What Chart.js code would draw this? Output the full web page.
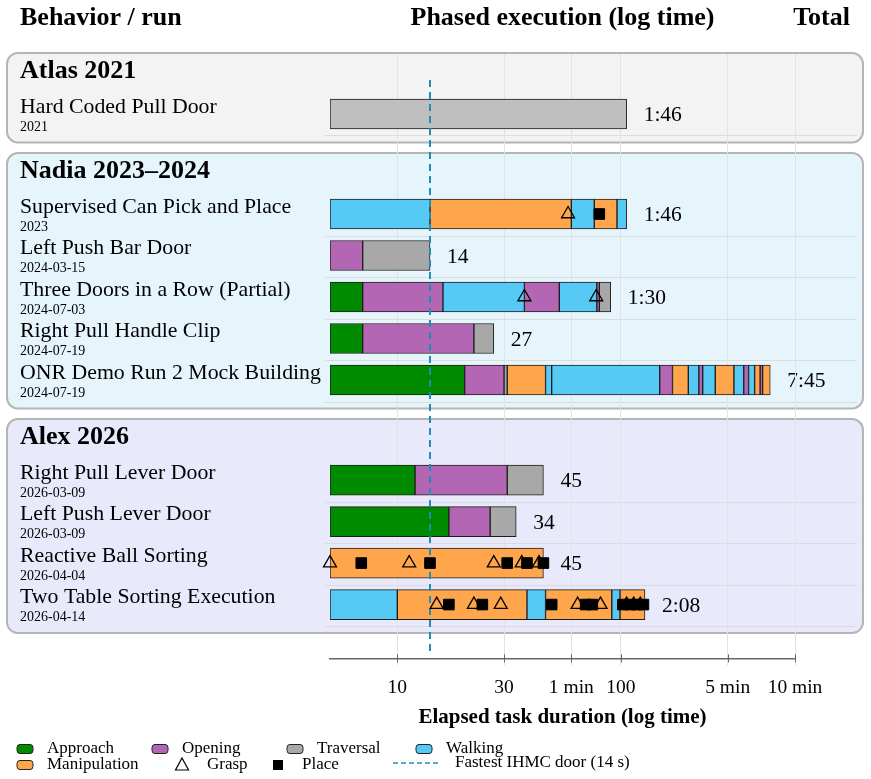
<!DOCTYPE html>
<html>
<head>
<meta charset="utf-8">
<title>Phased execution</title>
<script src="https://cdn.jsdelivr.net/npm/chart.js@4.4.0/dist/chart.umd.min.js"></script>
<style>
  html, body { margin: 0; padding: 0; background: #fff; }
  #wrap { width: 871px; height: 779px; }
</style>
</head>
<body>
<div id="wrap"><canvas id="phaseChart" width="871" height="779"></canvas></div>
<script>
const groupNames = ['Atlas 2021', 'Nadia 2023–2024', 'Alex 2026'];
const runNames = [
    'Hard Coded Pull Door',
    'Supervised Can Pick and Place',
    'Left Push Bar Door',
    'Three Doors in a Row (Partial)',
    'Right Pull Handle Clip',
    'ONR Demo Run 2 Mock Building',
    'Right Pull Lever Door',
    'Left Push Lever Door',
    'Reactive Ball Sorting',
    'Two Table Sorting Execution'
];
const runDates = ['2021', '2023', '2024-03-15', '2024-07-03', '2024-07-19', '2024-07-19',
    '2026-03-09', '2026-03-09', '2026-04-04', '2026-04-14'];
const runGroups = [0, 1, 1, 1, 1, 1, 2, 2, 2, 2];

// phases of each run, in order, with their durations in seconds
const runPhases = [
    ['Scripted'],
    ['Walking', 'Manipulation', 'Walking', 'Manipulation', 'Walking'],
    ['Opening', 'Traversal'],
    ['Approach', 'Opening', 'Walking', 'Opening', 'Walking', 'Opening', 'Traversal'],
    ['Approach', 'Opening', 'Traversal'],
    ['Approach', 'Opening', 'Traversal', 'Manipulation', 'Walking', 'Walking', 'Opening', 'Manipulation',
        'Walking', 'Opening', 'Walking', 'Manipulation', 'Walking', 'Opening', 'Walking', 'Manipulation',
        'Opening', 'Manipulation'],
    ['Approach', 'Opening', 'Traversal'],
    ['Approach', 'Opening', 'Traversal'],
    ['Manipulation'],
    ['Walking', 'Manipulation', 'Walking', 'Manipulation', 'Walking', 'Manipulation']
];
const runDurations = [
    [106],
    [14, 46, 16, 20, 10],
    [7, 7],
    [7, 9, 21, 16, 25, 2, 10],
    [7, 15, 5],
    [20, 10, 1, 15, 3, 100, 21, 30, 23, 9, 32, 56, 34, 18, 24, 23, 11, 35],
    [12, 19, 14],
    [17, 9, 8],
    [45],
    [10, 28, 8, 45, 8, 29]
];
const graspTimes = [[], [58], [], [37, 77.5], [], [], [], [], [5, 11.3, 27, 36, 43],
    [15, 22, 29, 64, 81, 106, 114, 122]];
const placeTimes = [[], [80], [], [], [], [], [], [], [6.9, 14, 31, 38, 45],
    [17, 24, 49, 69.5, 74.5, 102, 110, 118, 126]];

const tickValues = [10, 30, 60, 100, 300, 600];
const tickLabels = ['10', '30', '1 min', '100', '5 min', '10 min'];
const fastestIhmcDoor = 14;

const X_MIN = 5;
const X_MAX = 600;
const SERIF = '"Liberation Serif", "DejaVu Serif", serif';

const phaseOrder = ['Approach', 'Opening', 'Traversal', 'Walking', 'Manipulation', 'Scripted'];
const phaseColors = {
    Approach: '#008a00',
    Opening: '#b366b3',
    Traversal: '#a8a8a8',
    Walking: '#57c9f5',
    Manipulation: '#ffa64d',
    Scripted: '#bfbfbf'
};
const boxColors = ['#f3f3f3', '#e6f5fc', '#e9e9fc'];

// row layout in units of one row pitch
const titlePos = [];
const rowPos = [];
let cursor = -1.06;
runGroups.forEach((g, i) => {
    if (i === 0 || g !== runGroups[i - 1]) {
        if (i > 0) cursor += 1.35;
        titlePos[g] = cursor;
        cursor += 1.06;
    } else {
        cursor += 1;
    }
    rowPos[i] = cursor;
});
const Y_MIN = titlePos[0] - 0.385;
const Y_MAX = rowPos[rowPos.length - 1] + 1.297;

const barSets = phaseOrder.map(p => ({
    type: 'bar',
    label: p,
    indexAxis: 'y',
    grouped: false,
    barThickness: 30,
    backgroundColor: phaseColors[p],
    borderColor: '#1e1e1e',
    borderWidth: 1,
    borderSkipped: false,
    order: 2,
    data: []
}));

const totals = [];
runPhases.forEach((phases, r) => {
    let t = 0;
    phases.forEach((p, k) => {
        const end = t + runDurations[r][k];
        barSets[phaseOrder.indexOf(p)].data.push({ y: rowPos[r], x: [Math.max(t, X_MIN), end] });
        t = end;
    });
    totals[r] = t;
});

function fmtTotal(t) {
    if (t < 60) return String(t);
    return Math.floor(t / 60) + ':' + String(t % 60).padStart(2, '0');
}

const graspSet = {
    type: 'scatter',
    label: 'Grasp',
    data: graspTimes.flatMap((ts, r) => ts.map(t => ({ x: t, y: rowPos[r] }))),
    pointStyle: 'triangle',
    pointRadius: 7.5,
    backgroundColor: 'rgba(0,0,0,0)',
    borderColor: '#000',
    borderWidth: 1.3,
    clip: false,
    order: 0
};
const placeSet = {
    type: 'scatter',
    label: 'Place',
    data: placeTimes.flatMap((ts, r) => ts.map(t => ({ x: t, y: rowPos[r] }))),
    pointStyle: 'rect',
    pointRadius: 7.5,
    backgroundColor: '#000',
    borderColor: '#000',
    borderWidth: 1,
    clip: false,
    order: 1
};

function roundBox(ctx, x, y, w, h, r) {
    ctx.beginPath();
    ctx.moveTo(x + r, y);
    ctx.arcTo(x + w, y, x + w, y + h, r);
    ctx.arcTo(x + w, y + h, x, y + h, r);
    ctx.arcTo(x, y + h, x, y, r);
    ctx.arcTo(x, y, x + w, y, r);
    ctx.closePath();
}

function drawDashed(chart) {
    const ctx = chart.ctx;
    const x = chart.scales.x.getPixelForValue(fastestIhmcDoor);
    ctx.save();
    ctx.strokeStyle = '#1f8db5';
    ctx.lineWidth = 2;
    ctx.setLineDash([7, 5]);
    ctx.beginPath();
    ctx.moveTo(x, chart.chartArea.top + 26);
    ctx.lineTo(x, chart.chartArea.bottom - 7);
    ctx.stroke();
    ctx.restore();
}

const layoutPlugin = {
    id: 'layoutPlugin',
    beforeDraw(chart) {
        const ctx = chart.ctx;
        const ys = chart.scales.y;
        const xs = chart.scales.x;
        const area = chart.chartArea;
        chart.$dashDone = false;
        ctx.save();
        ctx.fillStyle = '#fff';
        ctx.fillRect(0, 0, chart.width, chart.height);

        // header
        ctx.fillStyle = '#000';
        ctx.textBaseline = 'middle';
        ctx.font = 'bold 26px ' + SERIF;
        ctx.textAlign = 'left';
        ctx.fillText('Behavior / run', 20, 18);
        ctx.textAlign = 'center';
        ctx.fillText('Phased execution (log time)', (area.left + area.right) / 2, 18);
        ctx.textAlign = 'right';
        ctx.fillText('Total', 850, 18);

        // group boxes
        groupNames.forEach((name, g) => {
            const rows = rowPos.filter((p, i) => runGroups[i] === g);
            const top = ys.getPixelForValue(titlePos[g]) - 17;
            const bottom = ys.getPixelForValue(rows[rows.length - 1]) + 28.5;
            roundBox(ctx, 7, top, 856, bottom - top, 11);
            ctx.fillStyle = boxColors[g];
            ctx.fill();
            ctx.lineWidth = 2;
            ctx.strokeStyle = '#b5b5b5';
            ctx.stroke();
            ctx.fillStyle = '#000';
            ctx.font = 'bold 26px ' + SERIF;
            ctx.textAlign = 'left';
            ctx.fillText(name, 20, ys.getPixelForValue(titlePos[g]) + 1.5);
        });

        // rows
        runNames.forEach((name, r) => {
            const y = ys.getPixelForValue(rowPos[r]);
            ctx.strokeStyle = '#dcdcdc';
            ctx.lineWidth = 1;
            ctx.beginPath();
            ctx.moveTo(325, Math.round(y + 21.5) + 0.5);
            ctx.lineTo(857, Math.round(y + 21.5) + 0.5);
            ctx.stroke();
            ctx.fillStyle = '#000';
            ctx.textAlign = 'left';
            ctx.font = '21.8px ' + SERIF;
            ctx.fillText(name, 20, y - 7);
            ctx.font = '14px ' + SERIF;
            ctx.fillText(runDates[r], 20, y + 13);
            ctx.font = '21.5px ' + SERIF;
            ctx.fillText(fmtTotal(totals[r]), xs.getPixelForValue(totals[r]) + 17, y + 1.5);
        });
        ctx.restore();
    },
    beforeDatasetDraw(chart, args) {
        if (args.meta.type === 'scatter' && !chart.$dashDone) {
            drawDashed(chart);
            chart.$dashDone = true;
        }
    },
    afterDraw(chart) {
        const ctx = chart.ctx;
        const xs = chart.scales.x;
        const base = xs.top;

        // tick marks crossing the axis line
        ctx.save();
        ctx.strokeStyle = '#666';
        ctx.lineWidth = 1;
        tickValues.forEach(v => {
            const x = Math.round(xs.getPixelForValue(v)) + 0.5;
            ctx.beginPath();
            ctx.moveTo(x, base - 4);
            ctx.lineTo(x, base + 4);
            ctx.stroke();
        });

        ctx.textBaseline = 'middle';
        ctx.textAlign = 'left';
        ctx.font = '17px ' + SERIF;
        const swatch = (x, y, p) => {
            roundBox(ctx, x, y - 4.5, 16, 9, 3);
            ctx.fillStyle = phaseColors[p];
            ctx.fill();
            ctx.strokeStyle = '#222';
            ctx.lineWidth = 1;
            ctx.stroke();
        };
        const row1 = 749, row2 = 765;
        [['Approach', 17], ['Opening', 152], ['Traversal', 287], ['Walking', 416]].forEach(([p, x]) => {
            swatch(x, row1, p);
            ctx.fillStyle = '#000';
            ctx.fillText(p, x + 30, row1);
        });
        swatch(17, row2, 'Manipulation');
        ctx.fillStyle = '#000';
        ctx.fillText('Manipulation', 47, row2);

        // grasp triangle
        ctx.beginPath();
        ctx.moveTo(182, row2 - 7);
        ctx.lineTo(188.5, row2 + 5);
        ctx.lineTo(175.5, row2 + 5);
        ctx.closePath();
        ctx.strokeStyle = '#000';
        ctx.lineWidth = 1.2;
        ctx.stroke();
        ctx.fillText('Grasp', 207, row2);

        // place square
        ctx.fillRect(273, row2 - 5, 10, 10);
        ctx.fillText('Place', 302, row2);

        // fastest door line
        ctx.strokeStyle = '#1f8db5';
        ctx.lineWidth = 1.5;
        ctx.setLineDash([5, 3]);
        ctx.beginPath();
        ctx.moveTo(393, row2 - 2);
        ctx.lineTo(438, row2 - 2);
        ctx.stroke();
        ctx.setLineDash([]);
        ctx.fillText('Fastest IHMC door (14 s)', 455, row2 - 2);
        ctx.restore();
    }
};

new Chart(document.getElementById('phaseChart'), {
    type: 'bar',
    data: { datasets: [...barSets, graspSet, placeSet] },
    options: {
        indexAxis: 'y',
        responsive: false,
        devicePixelRatio: 1,
        animation: false,
        layout: { padding: { left: 330, right: 76, top: 54, bottom: 45 } },
        plugins: {
            legend: { display: false },
            tooltip: { enabled: false }
        },
        scales: {
            x: {
                type: 'logarithmic',
                position: 'bottom',
                min: X_MIN,
                max: X_MAX,
                offset: false,
                afterBuildTicks: scale => {
                    scale.ticks = tickValues.map(v => ({ value: v }));
                },
                grid: { color: '#e2e2e2', lineWidth: 1, offset: false, drawTicks: true, tickLength: 7, tickColor: '#e2e2e2' },
                border: { color: '#666', width: 1.5 },
                ticks: {
                    autoSkip: false,
                    maxRotation: 0,
                    padding: 11,
                    color: '#000',
                    font: { family: SERIF, size: 19.5 },
                    callback: (value, index) => tickLabels[index]
                },
                title: {
                    display: true,
                    text: 'Elapsed task duration (log time)',
                    color: '#000',
                    font: { family: SERIF, size: 21, weight: 'bold' },
                    padding: { top: -6, bottom: 4 }
                }
            },
            y: {
                type: 'linear',
                reverse: true,
                min: Y_MIN,
                max: Y_MAX,
                offset: false,
                display: false,
                grid: { offset: false }
            }
        }
    },
    plugins: [layoutPlugin]
});
</script>
</body>
</html>
